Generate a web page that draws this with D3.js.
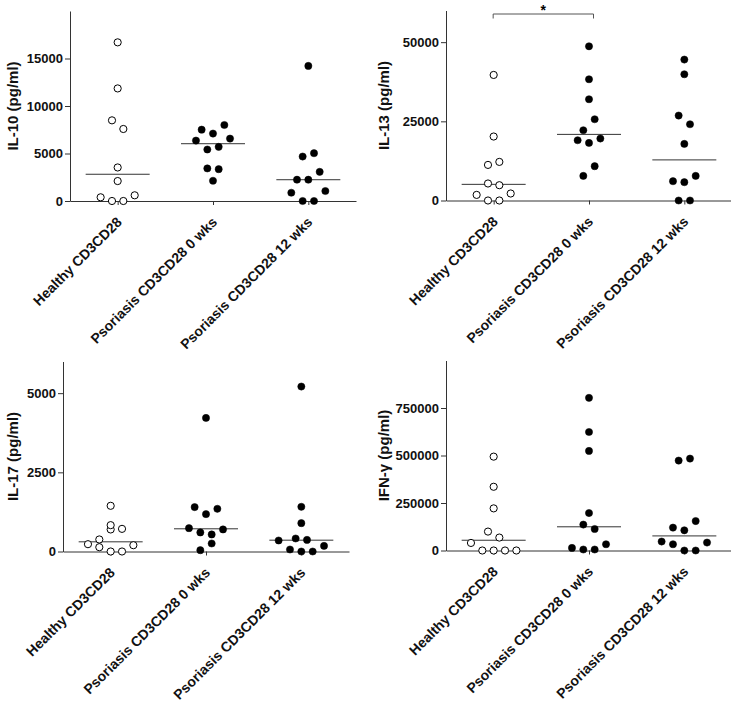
<!DOCTYPE html>
<html>
<head>
<meta charset="utf-8">
<script src="https://cdn.jsdelivr.net/npm/d3@7"></script>
<style>
  html, body { margin: 0; padding: 0; background: #fff; }
  svg { display: block; font-family: Arial, "Liberation Sans", Helvetica, sans-serif; }
</style>
</head>
<body>
<svg id="chart" width="731" height="702"></svg>
<script>
// ---------- data (subject order as listed) ----------
const categories = ["Healthy CD3CD28", "Psoriasis CD3CD28 0 wks", "Psoriasis CD3CD28 12 wks"];

const il10Healthy = [390, 0, 0, 600, 2100, 3530, 8490, 7580, 11850, 16700];
const il10Ps0     = [2130, 3430, 3350, 6360, 5420, 5700, 6570, 7510, 7100, 8000];
const il10Ps12    = [870, 0, 0, 1050, 2240, 2240, 3070, 4680, 5030, 14220];
const il10Ticks   = [0, 5000, 10000, 15000];

const il13Healthy = [1770, 0, 0, 2210, 5370, 4830, 11240, 12190, 20200, 39650];
const il13Ps0     = [7770, 10830, 19030, 18180, 19570, 22190, 25660, 31980, 38290, 48700];
const il13Ps12    = [0, 0, 6090, 5780, 7770, 17870, 26830, 24080, 39870, 44500];
const il13Ticks   = [0, 25000, 50000];

const il17Healthy = [231, 136, 0, 0, 199, 380, 696, 832, 715, 1443];
const il17Ps0     = [41, 253, 737, 601, 538, 696, 1402, 1180, 1348, 4218];
const il17Ps12    = [348, 63, 0, 0, 177, 411, 367, 896, 1411, 5209];
const il17Ticks   = [0, 2500, 5000];

const ifnHealthy  = [39800, 0, 0, 0, 0, 99600, 68100, 221700, 335400, 494000];
const ifnPs0      = [13600, 5200, 5200, 33000, 136300, 113200, 197100, 524100, 623700, 803500];
const ifnPs12     = [47200, 33000, 0, 0, 41900, 120500, 106400, 155100, 473300, 483800];
const ifnTicks    = [0, 250000, 500000, 750000];

const yTitles = ["IL-10 (pg/ml)", "IL-13 (pg/ml)", "IL-17 (pg/ml)", "IFN-\u03b3 (pg/ml)"];
const yMax = [20000, 60000, 6000, 1000000];
const sigPairs = [[], [[0, 1, "*"]], [], []];

// ---------- layout ----------
const svg = d3.select("#chart");
const PW = 286, PH = 190;
const panels = [
  { series: [il10Healthy, il10Ps0, il10Ps12], ticks: il10Ticks, left: 70,  top: 11,  titleX: 12 },
  { series: [il13Healthy, il13Ps0, il13Ps12], ticks: il13Ticks, left: 446, top: 10.5, titleX: 383 },
  { series: [il17Healthy, il17Ps0, il17Ps12], ticks: il17Ticks, left: 63,  top: 361.5, titleX: 12 },
  { series: [ifnHealthy,  ifnPs0,  ifnPs12],  ticks: ifnTicks,  left: 446, top: 360.5, titleX: 383 }
];

const ROW_H = 11.2, SPACING = 11.35, R = 3.6;

// rows of near-equal values are spread side by side, centred on the category
function swarm(values, y, cx) {
  const pts = values.map((v, i) => ({ v, i, y: y(v) }));
  const sorted = pts.slice().sort((a, b) => b.y - a.y || a.i - b.i);
  const rows = [];
  let cur = null;
  sorted.forEach(p => {
    if (!cur || cur.start - p.y > ROW_H) { cur = { start: p.y, pts: [] }; rows.push(cur); }
    cur.pts.push(p);
  });
  rows.forEach(r => {
    const n = r.pts.length;
    r.pts.sort((a, b) => a.i - b.i).forEach((p, k) => { p.x = cx + (k - (n - 1) / 2) * SPACING; });
  });
  return pts;
}

panels.forEach((p, pi) => {
  const g = svg.append("g");
  const y = d3.scaleLinear().domain([0, yMax[pi]]).range([p.top + PH, p.top]);
  const x = d3.scalePoint().domain(categories).range([p.left, p.left + PW]).padding(0.5);

  // y axis
  const ya = g.append("g").attr("transform", `translate(${p.left},0)`)
    .call(d3.axisLeft(y).tickValues(p.ticks).tickFormat(d3.format("d")).tickSize(5).tickSizeOuter(0).tickPadding(2));
  ya.select(".domain").attr("stroke", "#333");
  ya.selectAll(".tick line").attr("stroke", "#333");
  ya.selectAll(".tick text").attr("font-size", 13).attr("font-weight", "bold").attr("fill", "#111")
    .attr("font-family", "Arial, 'Liberation Sans', sans-serif");

  // x axis
  const xa = g.append("g").attr("transform", `translate(0,${p.top + PH})`)
    .call(d3.axisBottom(x).tickSize(4).tickSizeOuter(0).tickFormat(""));
  xa.select(".domain").attr("stroke", "#333");
  xa.selectAll(".tick line").attr("stroke", "#333");

  // category labels
  g.selectAll(".cat").data(categories).enter().append("text")
    .attr("class", "cat")
    .attr("transform", d => `translate(${x(d) + 5},${p.top + PH + 22}) rotate(-45)`)
    .attr("text-anchor", "end")
    .attr("font-size", 14).attr("font-weight", "bold").attr("fill", "#111")
    .text(d => d);

  // y title
  g.append("text")
    .attr("transform", `translate(${p.titleX},${p.top + PH / 2}) rotate(-90)`)
    .attr("text-anchor", "middle").attr("dominant-baseline", "central")
    .attr("font-size", 15).attr("font-weight", "bold").attr("fill", "#111")
    .text(yTitles[pi]);

  // groups
  p.series.forEach((vals, ci) => {
    const cx = x(categories[ci]);
    const med = d3.median(vals);
    g.append("line")
      .attr("x1", cx - 32).attr("x2", cx + 32)
      .attr("y1", y(med)).attr("y2", y(med))
      .attr("stroke", "#333").attr("stroke-width", 1);
    const pts = swarm(vals, y, cx);
    g.selectAll(null).data(pts).enter().append("circle")
      .attr("cx", d => d.x).attr("cy", d => d.y).attr("r", R)
      .attr("fill", ci === 0 ? "#fff" : "#000")
      .attr("stroke", "#000").attr("stroke-width", ci === 0 ? 1 : 0.5);
  });

  // significance brackets
  sigPairs[pi].forEach(([a, b, label]) => {
    const x1 = x(categories[a]) - 0.5, x2 = x(categories[b]) + 4.5;
    const by = p.top + 3.5;
    g.append("path")
      .attr("d", `M${x1},${by + 4.5}V${by}H${x2}V${by + 4.5}`)
      .attr("fill", "none").attr("stroke", "#555").attr("stroke-width", 1);
    g.append("text")
      .attr("x", (x1 + x2) / 2).attr("y", by + 0.5)
      .attr("text-anchor", "middle").attr("font-size", 14).attr("font-weight", "bold")
      .text(label);
  });
});
</script>
</body>
</html>
